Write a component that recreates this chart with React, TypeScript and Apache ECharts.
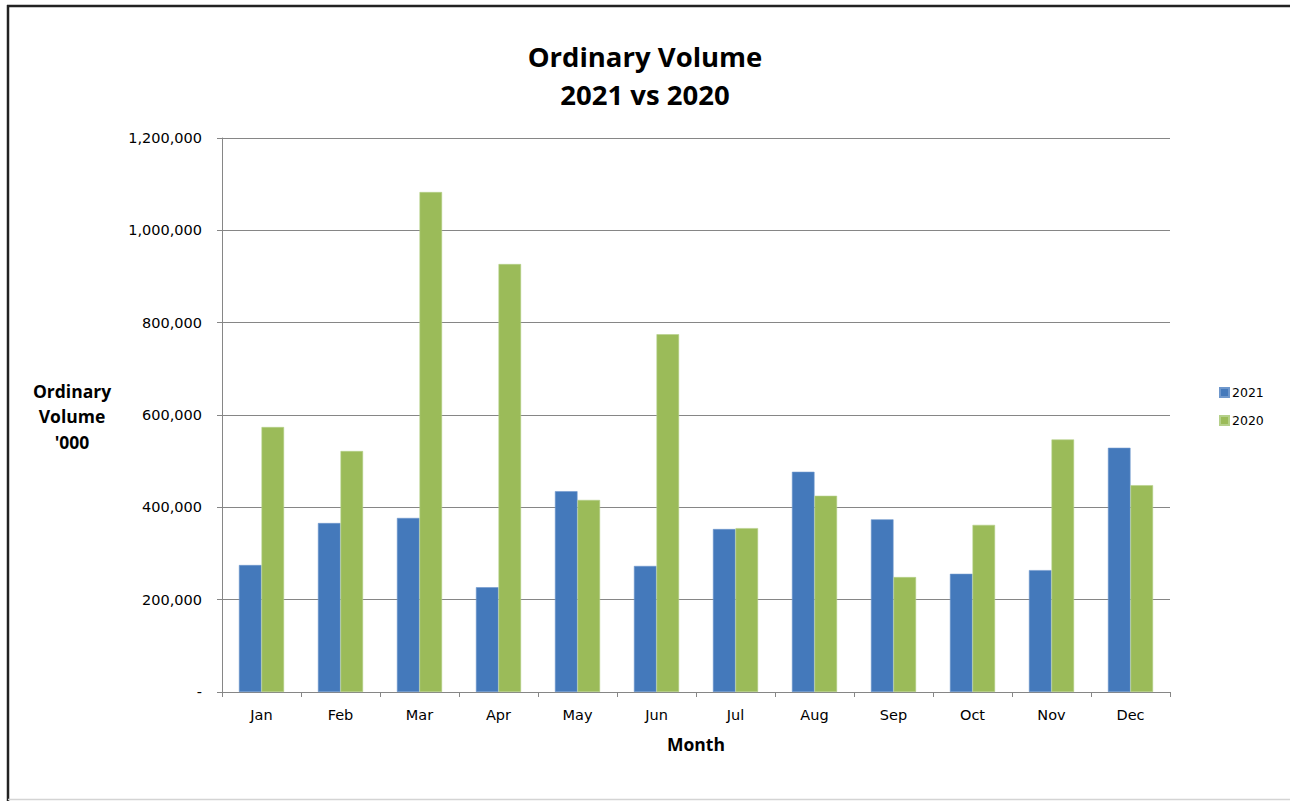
import React, { useEffect, useRef } from "react";
import * as echarts from "echarts";

const months = ["Jan", "Feb", "Mar", "Apr", "May", "Jun", "Jul", "Aug", "Sep", "Oct", "Nov", "Dec"];
const vol2021 = [275000, 366000, 377000, 227000, 435000, 273000, 353000, 477000, 374000, 256000, 264000, 529000];
const vol2020 = [574000, 522000, 1083000, 927000, 416000, 775000, 355000, 425000, 249000, 362000, 547000, 448000];
const titleLines = ["Ordinary Volume", "2021 vs 2020"];
const yName = ["Ordinary", "Volume", "'000"];
const xName = "Month";

const fmt = (v: number) => (v === 0 ? "-" : v.toLocaleString("en-US"));

export default function App() {
  const ref = useRef<HTMLDivElement>(null);
  useEffect(() => {
    if (!ref.current) return;
    const chart = echarts.init(ref.current, null, { renderer: "svg" });
    const axisGray = "#868686";
    chart.setOption({
      animation: false,
      backgroundColor: "#ffffff",
      title: {
        text: titleLines.join("\n"),
        left: "center",
        top: 32,
        textStyle: {
          fontFamily: "Open Sans",
          fontWeight: "bold",
          fontSize: 27.5,
          lineHeight: 38,
          color: "#000",
        },
      },
      legend: {
        orient: "vertical",
        left: 1214,
        top: 381,
        itemWidth: 9,
        itemHeight: 9,
        itemGap: 15,
        icon: "rect",
        textStyle: { fontFamily: "DejaVu Sans", fontSize: 12.5, color: "#000", padding: [0, 0, 0, -2] },
        data: ["2021", "2020"],
      },
      grid: { left: 222, right: 120, top: 138, bottom: 109 },
      xAxis: {
        type: "category",
        data: months,
        boundaryGap: true,
        name: xName,
        nameLocation: "middle",
        nameGap: 43,
        nameTextStyle: { fontFamily: "Open Sans", fontWeight: "bold", fontSize: 17.5, color: "#000" },
        axisLine: { lineStyle: { color: axisGray, width: 1 } },
        axisTick: { show: true, length: 5, alignWithLabel: false, lineStyle: { color: axisGray } },
        axisLabel: { fontFamily: "DejaVu Sans", fontSize: 14.5, color: "#000", margin: 15 },
      },
      yAxis: {
        type: "value",
        min: 0,
        max: 1200000,
        interval: 200000,
        axisLine: { show: true, lineStyle: { color: axisGray, width: 1 } },
        axisTick: { show: true, length: 5, lineStyle: { color: axisGray } },
        axisLabel: { fontFamily: "DejaVu Sans", fontSize: 14.5, color: "#000", margin: 20, formatter: fmt },
        splitLine: { show: true, lineStyle: { color: axisGray, width: 1 } },
      },
      series: [
        {
          name: "2021",
          type: "bar",
          data: vol2021,
          barGap: "0%",
          barCategoryGap: "42.86%",
          itemStyle: { color: "#4479BB", borderColor: "#6E97CC", borderWidth: 0.6 },
        },
        {
          name: "2020",
          type: "bar",
          data: vol2020,
          itemStyle: { color: "#9BBB59", borderColor: "#B5D08A", borderWidth: 0.6 },
        },
      ],
      graphic: [
        {
          type: "text",
          x: 72,
          y: 378,
          style: {
            text: yName.join("\n"),
            fontFamily: "Open Sans",
            fontWeight: "bold",
            fontSize: 17.5,
            lineHeight: 25.5,
            fill: "#000",
            align: "center",
            verticalAlign: "top",
          },
        },
        {
          type: "line",
          shape: { x1: 7, y1: 6, x2: 1290, y2: 6 },
          style: { stroke: "#222", lineWidth: 2.5 },
        },
        {
          type: "line",
          shape: { x1: 8, y1: 5, x2: 8, y2: 801 },
          style: { stroke: "#222", lineWidth: 2.5 },
        },
        {
          type: "line",
          shape: { x1: 8, y1: 799.5, x2: 1290, y2: 799.5 },
          style: { stroke: "#d4d4d4", lineWidth: 1.5 },
        },
      ],
    });
    return () => chart.dispose();
  }, []);
  return (
    <div
      ref={ref}
      style={{ position: "fixed", left: 0, top: 0, width: 1290, height: 801 }}
    />
  );
}
